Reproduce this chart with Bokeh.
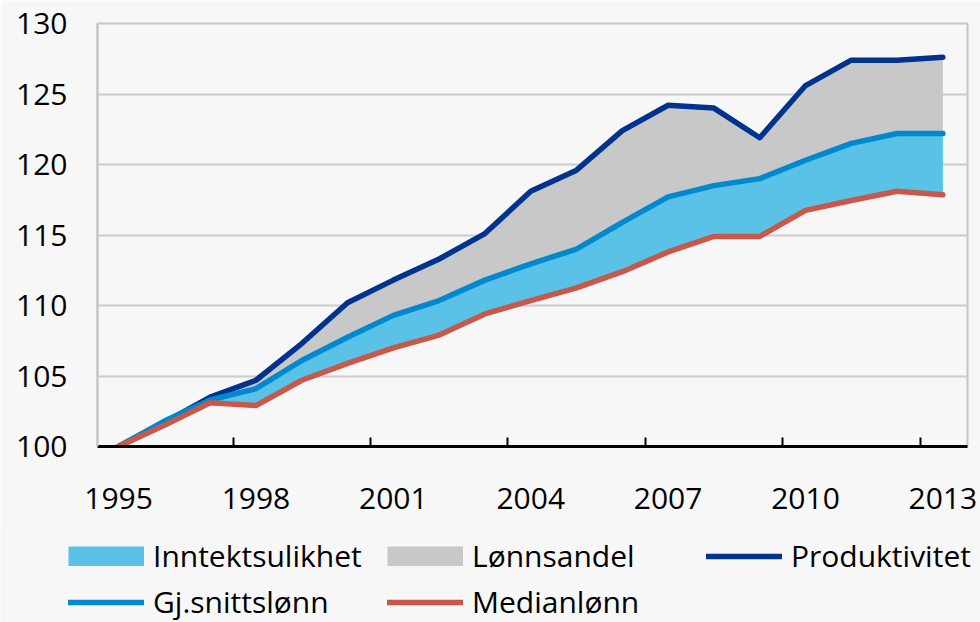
from bokeh.plotting import figure
from bokeh.layouts import column
from bokeh.models import Range1d, FixedTicker, Legend, LegendItem
from bokeh.embed import file_html
from bokeh.resources import INLINE

# ---- data ----
years = list(range(1995, 2014))
produktivitet = [100.0, 101.7, 103.5, 104.7, 107.3, 110.2, 111.8, 113.3, 115.1, 118.1,
                 119.6, 122.4, 124.2, 124.0, 121.9, 125.6, 127.4, 127.4, 127.6]
gjsnittslonn = [100.0, 101.8, 103.3, 104.1, 106.1, 107.75, 109.3, 110.35, 111.8, 112.95,
                114.0, 115.9, 117.7, 118.5, 119.0, 120.3, 121.5, 122.2, 122.2]
medianlonn = [100.0, 101.5, 103.1, 102.9, 104.7, 105.9, 107.0, 107.9, 109.4, 110.35,
              111.25, 112.4, 113.8, 114.9, 114.9, 116.75, 117.45, 118.1, 117.85]
y_ticks = [100, 105, 110, 115, 120, 125, 130]
x_label_years = [1995, 1998, 2001, 2004, 2007, 2010, 2013]
x_tick_marks = [y - 0.5 for y in x_label_years[1:]]
series_names = ["Inntektsulikhet", "Lønnsandel", "Produktivitet", "Gj.snittslønn", "Medianlønn"]

BG = "#f7f7f7"
FONT = "Open Sans"
C_INN, C_LON = "#5bc2e7", "#c8c8c8"
C_PROD, C_GJ, C_MED = "#00338d", "#0089cf", "#c9574a"
W = 980

p = figure(width=W, height=530,
           x_range=Range1d(1994.54, 2013.537), y_range=Range1d(100, 130),
           output_backend="svg", toolbar_location=None,
           min_border_left=97, min_border_right=13, min_border_top=23, min_border_bottom=84,
           background_fill_color=BG, border_fill_color=BG,
           outline_line_color="#c6c6c6", outline_line_width=2)
p.frame_align = False

p.xgrid.visible = False
p.ygrid.ticker = FixedTicker(ticks=y_ticks)
p.ygrid.grid_line_color = "#cccccc"
p.ygrid.grid_line_width = 2

xa = p.xaxis[0]
xa.ticker = FixedTicker(ticks=x_label_years, minor_ticks=x_tick_marks)
xa.major_tick_line_color = None
xa.major_tick_out = 0
xa.major_tick_in = 0
xa.minor_tick_in = 9
xa.minor_tick_out = 0
xa.minor_tick_line_color = "black"
xa.minor_tick_line_width = 2
xa.axis_line_color = "black"
xa.axis_line_width = 3
xa.major_label_text_font = FONT
xa.major_label_text_font_size = "30px"
xa.major_label_text_color = "black"
xa.major_label_standoff = 41

ya = p.yaxis[0]
ya.ticker = FixedTicker(ticks=y_ticks)
ya.major_tick_line_color = None
ya.major_tick_out = 0
ya.major_tick_in = 0
ya.minor_tick_line_color = None
ya.axis_line_color = "#c6c6c6"
ya.axis_line_width = 2
ya.major_label_text_font = FONT
ya.major_label_text_font_size = "30px"
ya.major_label_text_color = "black"
ya.major_label_standoff = 30

line_kw = dict(line_width=5.5, line_cap="round", line_join="round")
p.varea(x=years, y1=medianlonn, y2=gjsnittslonn, fill_color=C_INN)
p.varea(x=years, y1=gjsnittslonn, y2=produktivitet, fill_color=C_LON)
p.line(years, produktivitet, line_color=C_PROD, **line_kw)
p.line(years, gjsnittslonn, line_color=C_GJ, **line_kw)
p.line(years, medianlonn, line_color=C_MED, **line_kw)

# ---- legend strip below the chart (series drawn off-range so only the legend shows) ----
p2 = figure(width=W, height=92, output_backend="svg", toolbar_location=None,
            x_axis_location=None, y_axis_location=None, min_border=0,
            background_fill_color=BG, border_fill_color=BG, outline_line_color=None,
            x_range=Range1d(0, 1), y_range=Range1d(0, 1))
p2.frame_align = False
p2.grid.visible = False
swatch_kw = dict(line_width=20, line_cap="butt")
r_inn = p2.line(years, gjsnittslonn, line_color=C_INN, **swatch_kw)
r_lon = p2.line(years, produktivitet, line_color=C_LON, **swatch_kw)
r_prod = p2.line(years, produktivitet, line_color=C_PROD, **line_kw)
r_gj = p2.line(years, gjsnittslonn, line_color=C_GJ, **line_kw)
r_med = p2.line(years, medianlonn, line_color=C_MED, **line_kw)
rs = [r_inn, r_lon, r_prod, r_gj, r_med]

legend = Legend(items=[LegendItem(label=n, renderers=[r]) for n, r in zip(series_names, rs)],
                ncols=3, orientation="horizontal", location=(68, 0),
                padding=0, margin=0, spacing=5, border_line_color=None, background_fill_alpha=0,
                glyph_width=76, glyph_height=20, label_standoff=9, label_width=229, label_height=20,
                label_text_font=FONT, label_text_font_size="30px", label_text_color="black")
p2.add_layout(legend, "center")

open("out.html", "w").write(file_html(column(p, p2, spacing=0), INLINE))
